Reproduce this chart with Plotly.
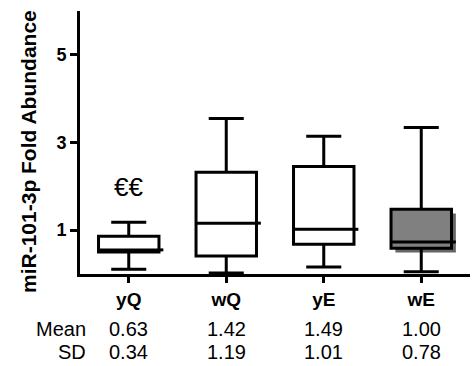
import plotly.graph_objects as go

categories = ["yQ", "wQ", "yE", "wE"]
lower_whisker = [0.11, 0.02, 0.16, 0.05]
q1 = [0.50, 0.41, 0.68, 0.59]
median = [0.55, 1.16, 1.02, 0.73]
q3 = [0.86, 2.32, 2.45, 1.48]
upper_whisker = [1.18, 3.55, 3.14, 3.34]
fills = ["white", "white", "white", "#808080"]
shadowed = [False, False, False, True]
means = ["0.63", "1.42", "1.49", "1.00"]
sds = ["0.34", "1.19", "1.01", "0.78"]
yticks = [1, 3, 5]
sig_label = "€€"
sig_y = 1.98

FONT = "Arial, Liberation Sans, sans-serif"
PLOT_L, PLOT_W, PLOT_T, PLOT_H = 80, 390, 11, 263
BOXW = 0.62  # box width in category units
HALF = BOXW / 2

fig = go.Figure()
for i, c in enumerate(categories):
    if shadowed[i]:
        fig.add_shape(type="rect", xref="x", yref="y", layer="below",
                      x0=i - HALF + 0.045, x1=i + HALF + 0.045,
                      y0=q1[i] - 0.1, y1=q3[i] - 0.1,
                      fillcolor="#4a4a4a", line=dict(width=0), opacity=0.85)
    fig.add_trace(go.Box(
        x=[i], q1=[q1[i]], median=[median[i]], q3=[q3[i]],
        lowerfence=[lower_whisker[i]], upperfence=[upper_whisker[i]],
        fillcolor=fills[i], line=dict(color="black", width=3),
        width=BOXW, whiskerwidth=0.58, boxpoints=False, showlegend=False,
        hoverinfo="skip",
    ))
    # median line overhang past the right edge of box (as in original)
    fig.add_shape(type="line", xref="x", yref="y", x0=i + HALF, x1=i + HALF + 0.045,
                  y0=median[i], y1=median[i], line=dict(color="black", width=3))

fig.add_annotation(x=0, y=sig_y, text=sig_label, showarrow=False,
                   font=dict(family=FONT, size=26, color="black"), xref="x", yref="y")

row_mean_y = (PLOT_T + PLOT_H - 329) / PLOT_H
row_sd_y = (PLOT_T + PLOT_H - 352) / PLOT_H
lab_x = (88 - PLOT_L) / PLOT_W
for i, c in enumerate(categories):
    fig.add_annotation(x=i, y=row_mean_y, text=means[i], showarrow=False, xref="x", yref="paper",
                       xanchor="center", yanchor="middle",
                       font=dict(family=FONT, size=20, color="black"))
    fig.add_annotation(x=i, y=row_sd_y, text=sds[i], showarrow=False, xref="x", yref="paper",
                       xanchor="center", yanchor="middle",
                       font=dict(family=FONT, size=20, color="black"))
fig.add_annotation(x=lab_x, y=row_mean_y, text="Mean", showarrow=False, xref="paper", yref="paper",
                   xanchor="right", yanchor="middle", font=dict(family=FONT, size=20, color="black"))
fig.add_annotation(x=lab_x, y=row_sd_y, text="SD", showarrow=False, xref="paper", yref="paper",
                   xanchor="right", yanchor="middle", font=dict(family=FONT, size=20, color="black"))

fig.add_annotation(x=(28 - PLOT_L) / PLOT_W, y=(PLOT_T + PLOT_H - 152) / PLOT_H,
                   xref="paper", yref="paper", xanchor="center", yanchor="middle",
                   text="<b>miR-101-3p Fold Abundance</b>", textangle=-90, showarrow=False,
                   font=dict(family=FONT, size=21, color="black"))

fig.update_layout(
    width=472, height=366,
    margin=dict(l=80, r=2, t=11, b=92),
    paper_bgcolor="white", plot_bgcolor="white",
    font=dict(family=FONT, color="black"),
)
fig.update_xaxes(
    range=[-0.5, 3.5], tickvals=list(range(len(categories))), ticktext=categories,
    showline=True, linecolor="black", linewidth=3,
    ticks="outside", ticklen=6, tickwidth=3, tickcolor="black",
    tickfont=dict(family=FONT, size=19, color="black", weight="bold"),
    showgrid=False, zeroline=False, fixedrange=True,
)
fig.update_yaxes(
    range=[0, 6], tickvals=yticks, ticktext=[str(v) for v in yticks],
    showline=True, linecolor="black", linewidth=3,
    ticks="outside", ticklen=7, tickwidth=3, tickcolor="black",
    tickfont=dict(family=FONT, size=18, color="black", weight="bold"),
    showgrid=False, zeroline=False, fixedrange=True,
)

fig.write_html("out.html")
